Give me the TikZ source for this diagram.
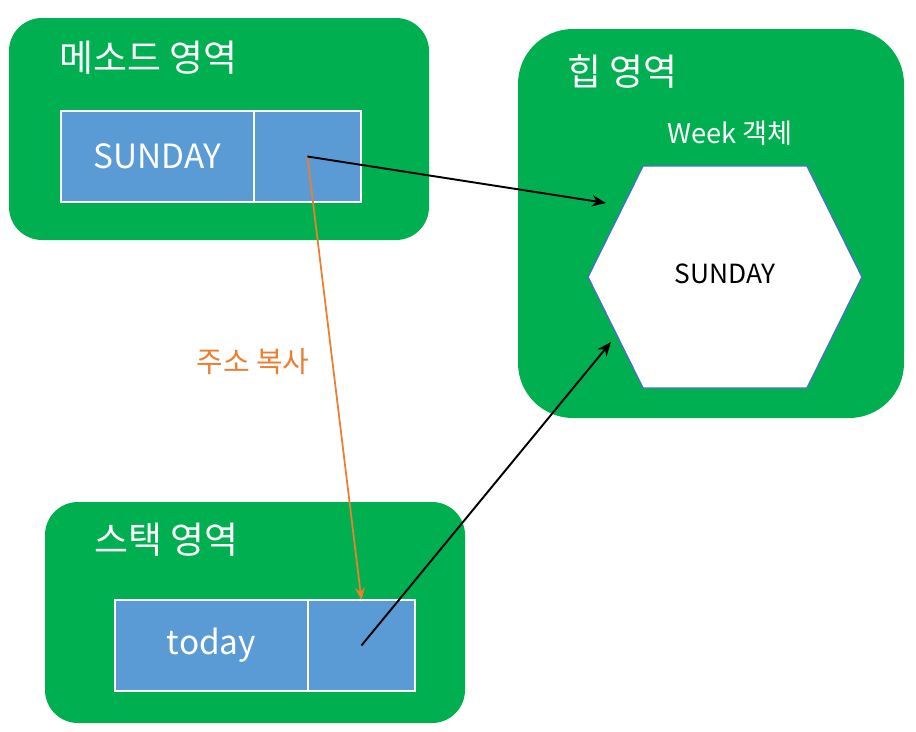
\documentclass[tikz,border=0pt]{standalone}
\usepackage{fontspec}
\setmainfont{Noto Sans CJK KR}
\usetikzlibrary{arrows.meta}

\definecolor{areagreen}{HTML}{00B050}
\definecolor{cellblue}{HTML}{5B9BD5}
\definecolor{copyorange}{HTML}{ED7D31}
\definecolor{hexborder}{HTML}{4472C4}

\tikzset{
  title/.style={text=white, anchor=west, inner sep=0pt, font=\fontsize{21}{24}\selectfont},
  cell/.style={draw=white, fill=cellblue, line width=1pt, text=white, outer sep=0pt,
    minimum height=1.82cm, inner sep=0pt, font=\fontsize{19}{22}\selectfont},
  ref/.style={-{Stealth[length=8pt,width=6.5pt]}, line width=1.1pt},
  copyref/.style={copyorange, -{Stealth[length=7pt,width=5.5pt]}, line width=1pt}
}

\begin{document}
\begin{tikzpicture}[x=0.02cm, y=-0.02cm]
    \useasboundingbox (0,0) rectangle (916,731);

    % Draw the memory areas
    \fill[areagreen, rounded corners=0.66cm] (9,18) rectangle (429,240);
    \fill[areagreen, rounded corners=1.1cm] (518,29) rectangle (904,418);
    \fill[areagreen, rounded corners=0.66cm] (45,502) rectangle (465,723);

    % Area titles
    \node[title] (mtitle) at (59,58) {메소드 영역};
    \node[title] (htitle) at (567,72) {힙 영역};
    \node[title] (stitle) at (94,540) {스택 영역};

    % Method area cells
    \node[cell, minimum width=3.86cm, anchor=north west] (mval) at (61,111) {SUNDAY};
    \node[cell, minimum width=2.14cm, anchor=west] (mptr) at (mval.east) {};

    % Stack area cells
    \node[cell, minimum width=3.86cm, anchor=north west] (sval) at (115,600) {today};
    \node[cell, minimum width=2.14cm, anchor=west] (sptr) at (sval.east) {};

    % Draw the object hexagon
    \coordinate (H1) at (588,277);
    \coordinate (H2) at (643,166);
    \coordinate (H3) at (807,166);
    \coordinate (H4) at (862,277);
    \coordinate (H5) at (807,388);
    \coordinate (H6) at (643,388);
    \draw[hexborder, fill=white, line width=0.8pt] (H1) -- (H2) -- (H3) -- (H4) -- (H5) -- (H6) -- cycle;
    \node[font=\fontsize{15}{17}\selectfont] (obj) at (725,274) {SUNDAY};
    \node[text=white, font=\fontsize{15.5}{18}\selectfont] (objname) at (730,133) {Week 객체};

    % Arrow ends near the hexagon
    \coordinate (hin) at (606,203);
    \coordinate (sin) at (611,342);

    % Draw references
    \draw[copyref] (mptr.center) -- (sptr.north);
    \draw[ref] (mptr.center) -- (hin);
    \draw[ref] (sptr.center) -- (sin);
    \node[text=copyorange, font=\fontsize{16.5}{19}\selectfont] (copytext) at (253,362) {주소 복사};

\end{tikzpicture}
\end{document}
